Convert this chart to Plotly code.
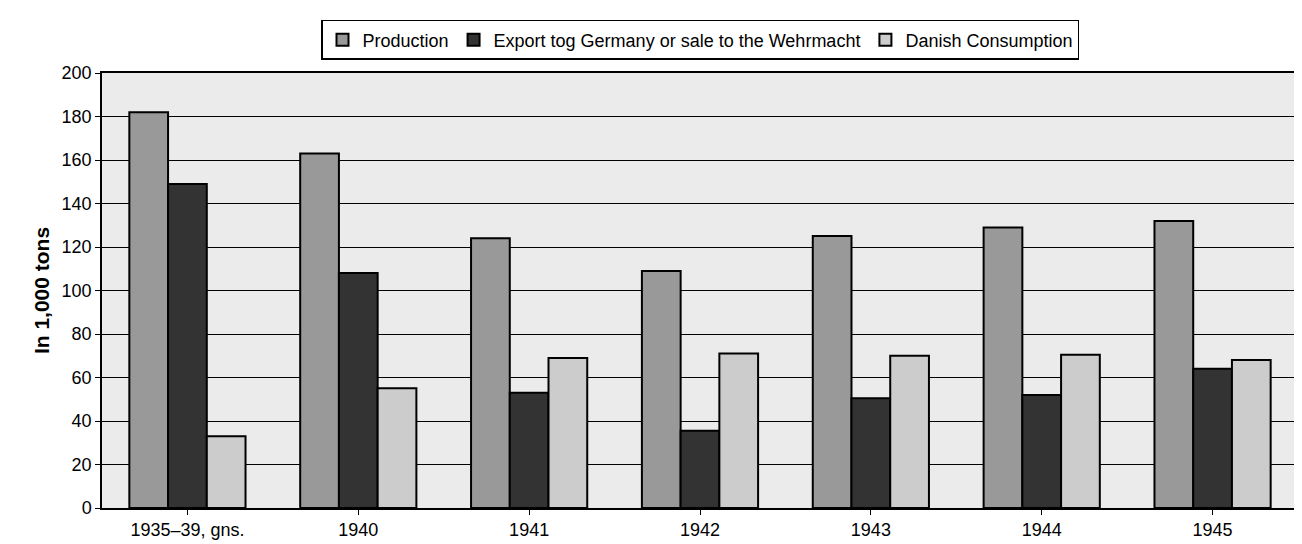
import plotly.graph_objects as go

years = ["1935–39, gns.", "1940", "1941", "1942", "1943", "1944", "1945"]
production = [182, 163, 124, 109, 125, 129, 132]
export = [149, 108, 53, 35.5, 50.5, 52, 64]
danish = [33, 55, 69, 71, 70, 70.5, 68]

series = [
    ("Production", production, "#999999"),
    ("Export tog Germany or sale to the Wehrmacht", export, "#333333"),
    ("Danish Consumption", danish, "#cccccc"),
]

fig = go.Figure()
for name, vals, col in series:
    fig.add_trace(go.Bar(x=years, y=vals, name=name, marker_color=col,
                         marker_line=dict(color="black", width=2)))

fig.update_layout(
    width=1302, height=544,
    margin=dict(l=94, r=12, t=65, b=40),
    paper_bgcolor="white", plot_bgcolor="#ebebeb",
    font=dict(family="Liberation Sans, Arial", size=18, color="black"),
    barmode="group", bargap=0.32, bargroupgap=0,
    legend=dict(orientation="h", x=0.5, xanchor="center", y=1.03, yanchor="bottom",
                bordercolor="black", borderwidth=1.5,
                font=dict(size=18), traceorder="normal"),
    showlegend=True,
)
fig.update_xaxes(showline=True, linecolor="black", linewidth=1.5, ticks="outside",
                 tickcolor="black", ticklen=5, tickfont=dict(size=18), mirror=True)
fig.update_yaxes(range=[0, 200], dtick=20, showline=True, linecolor="black",
                 linewidth=1.5, ticks="outside", tickcolor="black", ticklen=5,
                 gridcolor="black", gridwidth=1, zeroline=False,
                 title=dict(text="<b>In 1,000 tons</b>", font=dict(size=21), standoff=6),
                 tickfont=dict(size=18), mirror=True, automargin=False)

fig.write_html("out.html")
